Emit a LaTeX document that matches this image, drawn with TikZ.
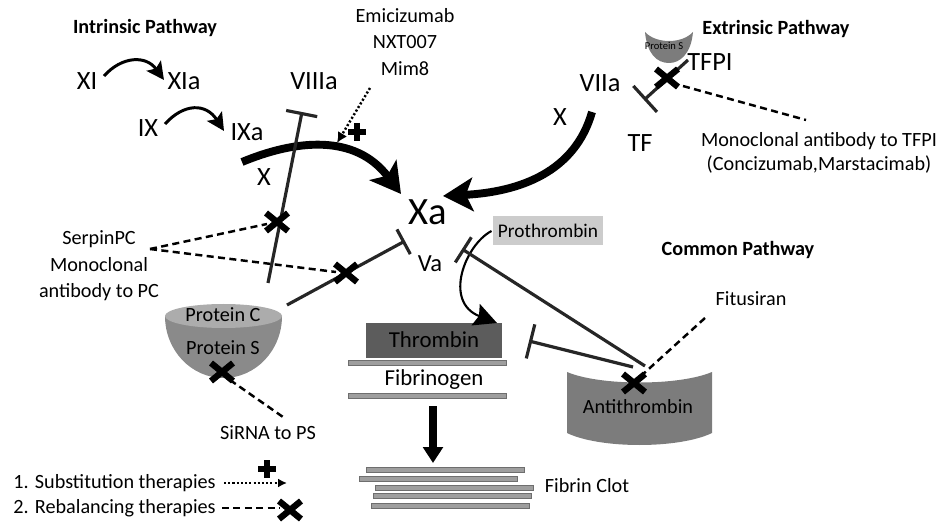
\documentclass[tikz,border=0pt]{standalone}
\usepackage{fontspec}
\setmainfont{Carlito}
\usetikzlibrary{arrows.meta}

\begin{document}
\begin{tikzpicture}[x=0.02cm, y=-0.02cm, line width=1.7pt,
    lbl/.style={font=\fontsize{15}{18}\selectfont, inner sep=0pt},
    txt/.style={font=\fontsize{11.5}{15}\selectfont, inner sep=0pt, align=center},
    ttl/.style={font=\bfseries\fontsize{11.5}{14}\selectfont, inner sep=0pt},
    inhib/.style={draw=black!85, line width=1.8pt, -{Bar[width=#1]}},
    inhib/.default=17pt,
    rebal/.style={line width=1.4pt, dash pattern=on 4pt off 2.5pt},
    subst/.style={line width=1.4pt, dash pattern=on 1.2pt off 1.2pt},
    actarr/.style={line width=1.7pt, -{Stealth[length=10pt, width=10pt, inset=2pt]}},
    bigarr/.style={line width=4.5pt, -{Stealth[length=17pt, width=19pt, inset=4pt]}},
    fibbar/.style={fill=barcol, draw=barline, line width=0.5pt},
    xmk/.pic={\draw[line width=3.6pt] (-11,-9) -- (11,9) (-11,9) -- (11,-9);},
    pmk/.pic={\draw[line width=3pt] (-9,0) -- (9,0) (0,-9) -- (0,9);}]
    % Define colors
    \definecolor{pctop}{RGB}{172, 172, 172}
    \definecolor{pcbowl}{RGB}{138, 138, 138}
    \definecolor{thrcol}{RGB}{92, 92, 92}
    \definecolor{barcol}{RGB}{158, 158, 158}
    \definecolor{barline}{RGB}{110, 110, 110}
    \definecolor{procol}{RGB}{204, 204, 204}
    \definecolor{atcol}{RGB}{124, 124, 124}

    \useasboundingbox (0,0) rectangle (943,523);

    % titles
    \node[ttl] (intr) at (145,28) {Intrinsic Pathway};
    \node[ttl] (extr) at (776,29) {Extrinsic Pathway};
    \node[ttl] (comm) at (738,250) {Common Pathway};

    % intrinsic pathway
    \node[lbl] (xi) at (87,81) {XI};
    \node[lbl] (xia) at (184,81) {XIa};
    \node[lbl] (ix) at (148,128) {IX};
    \node[lbl] (ixa) at (247,132) {IXa};
    \node[lbl] (viiia) at (314,81) {VIIIa};
    \node[lbl] (xl) at (264,177) {X};
    \coordinate (xi-out) at (104,76);
    \coordinate (xia-in) at (164,80);
    \coordinate (ix-out) at (165,124);
    \coordinate (ixa-in) at (224,131);
    \draw[actarr] (xi-out) .. controls (122,56) and (146,55) .. (xia-in);
    \draw[actarr] (ix-out) .. controls (184,103) and (206,103) .. (ixa-in);

    \node[txt] (emi) at (405,42) {Emicizumab\\NXT007\\Mim8};
    \node[font=\fontsize{22}{24}\selectfont, inner sep=0pt] (xa) at (428,212) {Xa};

    \coordinate (xl-out) at (242,162);
    \coordinate (xa-left) at (401,194);
    \draw[bigarr] (xl-out) .. controls (295,140) and (355,133) .. (xa-left);

    \coordinate (viii-s) at (268,283);
    \coordinate (viii-e) at (302,112);
    \draw[inhib=18pt] (viii-s) -- (viii-e);

    \coordinate (emi-s) at (370,88);
    \coordinate (emi-e) at (337,143);
    \draw[subst, -{Latex[length=6pt, width=6pt]}] (emi-s) -- (emi-e);
    \pic at (357,132) {pmk};

    % extrinsic pathway
    \node[lbl] (viia) at (600,83) {VIIa};
    \node[lbl] (xr) at (560,117) {X};
    \node[lbl] (tf) at (640,143) {TF};
    \node[lbl] (tfpi) at (710,62) {TFPI};
    \fill[atcol] (645,32) .. controls (656,44) and (682,44) .. (693,32)
        .. controls (691,54) and (680,63) .. (669,63)
        .. controls (657,63) and (647,54) .. (645,32) -- cycle;
    \node[font=\fontsize{6}{7}\selectfont, inner sep=0pt] (ps-small) at (664,46) {Protein S};

    \coordinate (xr-out) at (592,112);
    \coordinate (xa-right) at (443,196);
    \draw[bigarr] (xr-out) .. controls (575,172) and (520,192) .. (xa-right);

    \coordinate (tfpi-s) at (688,60);
    \coordinate (tfpi-e) at (644,100);
    \draw[inhib=20pt] (tfpi-s) -- (tfpi-e);
    \pic at (667,78) {xmk};
    \coordinate (mab-end) at (806,120);
    \draw[rebal] (672,83) coordinate (tfpi-x) -- (mab-end);
    \node[txt, font=\fontsize{11.5}{13.6}\selectfont] (mab) at (819,153)
        {Monoclonal antibody to TFPI\\(Concizumab,Marstacimab)};

    % protein C / protein S
    \node[txt] (serp) at (99,266) {SerpinPC\\Monoclonal\\antibody to PC};
    \fill[pcbowl] (165,316) arc[start angle=180, end angle=0, x radius=58.5, y radius=62] -- cycle;
    \fill[pctop] (223.5,316) ellipse[x radius=58.5, y radius=12];
    \node[txt] (pc) at (223,315) {Protein C};
    \node[txt] (ps) at (223,348) {Protein S};

    \coordinate (pc-out) at (287,305);
    \coordinate (va-left) at (405,241);
    \draw[inhib=16pt] (pc-out) -- (va-left);
    \pic at (277,222) {xmk};
    \pic at (346,273) {xmk};
    \coordinate (serp-out) at (150,249);
    \draw[rebal] (serp-out) -- (267,224);
    \draw[rebal] (serp-out) -- (336,272);

    \pic at (222,372) {xmk};
    \node[txt] (sirna) at (268,433) {SiRNA to PS};
    \draw[rebal] (230,380) -- (283,417) coordinate (sirna-in);

    % common pathway
    \node[txt, font=\fontsize{14}{16}\selectfont] (va) at (430,264) {Va};
    \node[fill=procol, font=\fontsize{11}{13}\selectfont, minimum width=110*0.02cm,
        minimum height=29*0.02cm, inner sep=0pt] (proth) at (548,231) {Prothrombin};
    \fill[thrcol] (366,323) rectangle (502,358);
    \node[font=\fontsize{13}{15}\selectfont, inner sep=0pt] (thr) at (434,340) {Thrombin};
    \draw[fibbar] (348,360) rectangle (506,365);
    \node[font=\fontsize{13}{15}\selectfont, inner sep=0pt] (fbg) at (434,380) {Fibrinogen};
    \draw[fibbar] (348,393) rectangle (506,398);

    \coordinate (thr-in) at (497,323);
    \draw[line width=1.2pt, -{Stealth[length=13pt, width=13pt, inset=2pt]}]
        (proth.west) .. controls (465,245) and (443,302) .. (thr-in);

    \coordinate (fbg-out) at (433,406);
    \coordinate (clot-in) at (433,463);
    \draw[line width=4pt, -{Triangle[length=9pt, width=11pt]}] (fbg-out) -- (clot-in);

    \draw[fibbar] (366,467) rectangle (524,472);
    \draw[fibbar] (359,476) rectangle (517,481);
    \draw[fibbar] (375,485) rectangle (533,490);
    \draw[fibbar] (373,493) rectangle (531,498);
    \draw[fibbar] (371,503) rectangle (529,508);
    \node[txt] (clot) at (587,486) {Fibrin Clot};

    % antithrombin
    \coordinate (at-s1) at (645,366);
    \coordinate (va-right) at (462,249);
    \coordinate (at-s2) at (633,367);
    \coordinate (thr-right) at (529,341);
    \draw[inhib=17pt] (at-s1) -- (va-right);
    \draw[inhib=20pt] (at-s2) -- (thr-right);
    \fill[atcol] (567,372) .. controls (600,386) and (679,386) .. (712,372)
        -- (712,433) .. controls (679,449) and (600,449) .. (567,433) -- cycle;
    \node[txt] (at) at (638,407) {Antithrombin};
    \pic at (634,383) {xmk};
    \node[txt] (fitu) at (751,299) {Fitusiran};
    \coordinate (fitu-out) at (705,318);
    \draw[rebal] (fitu-out) -- (641,376);

    % legend
    \node[txt, anchor=west] (leg1) at (12,483) {1. Substitution therapies};
    \node[txt, anchor=west] (leg2) at (12,508) {2. Rebalancing therapies};
    \draw[subst, -{Latex[length=5pt, width=5pt]}] (224,483) -- (287,483);
    \pic at (267,469) {pmk};
    \draw[rebal] (222,508) -- (280,508);
    \pic at (290,510) {xmk};

\end{tikzpicture}
\end{document}
